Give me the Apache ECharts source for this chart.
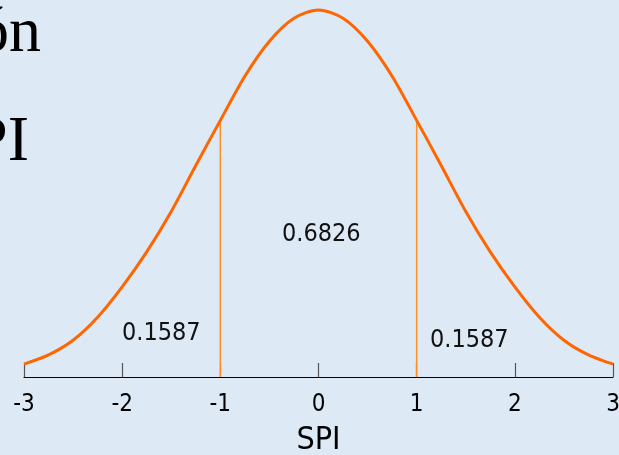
<!DOCTYPE html>
<html>
<head>
<meta charset="utf-8">
<script src="https://cdn.jsdelivr.net/npm/echarts@6/dist/echarts.min.js"></script>
<style>
html,body{margin:0;padding:0;background:#dde9f5;}
#c{width:619px;height:455px;}
</style>
</head>
<body>
<div id="c"></div>
<script>
// Curve points (x in SPI units, y relative density)
const curveX = [-3, -2.75, -2.5, -2.25, -2, -1.75, -1.5, -1.25, -1, -0.75, -0.5, -0.25, 0,
                0.25, 0.5, 0.75, 1, 1.25, 1.5, 1.75, 2, 2.25, 2.5, 2.75, 3];
const curveY = [0.014, 0.024, 0.040, 0.065, 0.098, 0.136, 0.180, 0.230, 0.279, 0.327, 0.365, 0.390, 0.399,
                0.390, 0.365, 0.327, 0.279, 0.230, 0.180, 0.136, 0.098, 0.065, 0.040, 0.024, 0.014];
const boundX = [-1, 1];
const boundY = [0.279, 0.279];
const tickLabels = ['-3', '-2', '-1', '0', '1', '2', '3'];
const areaLabels = ['0.1587', '0.6826', '0.1587'];
const axisName = 'SPI';
const titleFragments = ['ón', 'PI'];

const FONT = '"DejaVu Sans Condensed", "DejaVu Sans", sans-serif';
const chart = echarts.init(document.getElementById('c'));
const curveData = curveX.map((x, i) => [x, curveY[i]]);
const boundSeries = boundX.map((x, i) => ({
  type: 'line',
  data: [[x, 0], [x, boundY[i]]],
  symbol: 'none',
  lineStyle: { color: '#ff9124', width: 1.5 },
  silent: true,
  z: 1
}));

chart.setOption({
  backgroundColor: '#dde9f5',
  animation: false,
  grid: { left: 24, right: 6, top: 10, bottom: 78, containLabel: false, outerBoundsMode: 'none' },
  xAxis: {
    type: 'value', min: -3, max: 3, interval: 1,
    axisLine: { show: true, lineStyle: { color: '#000', width: 1.2 } },
    axisTick: { show: true, inside: true, length: 14, lineStyle: { color: '#555', width: 1.2 } },
    axisLabel: {
      formatter: v => tickLabels[Math.round(v) + 3],
      color: '#000', fontSize: 24, fontFamily: FONT, margin: 16
    },
    splitLine: { show: false },
    name: axisName, nameLocation: 'middle', nameGap: 48,
    nameTextStyle: { color: '#000', fontSize: 32, fontFamily: FONT }
  },
  yAxis: {
    type: 'value', min: 0, max: 0.399, show: false,
    splitLine: { show: false }
  },
  series: [
    ...boundSeries,
    {
      type: 'line', data: curveData, smooth: 0.3, symbol: 'none', clip: false,
      lineStyle: { color: '#ff6600', width: 3 }, z: 3
    }
  ],
  graphic: [
    { type: 'text', x: 122, y: 333.5, style: { text: areaLabels[0], fill: '#111', font: '25px ' + FONT, align: 'left', verticalAlign: 'middle' } },
    { type: 'text', x: 282, y: 234.5, style: { text: areaLabels[1], fill: '#111', font: '25px ' + FONT, align: 'left', verticalAlign: 'middle' } },
    { type: 'text', x: 430, y: 340, style: { text: areaLabels[2], fill: '#111', font: '25px ' + FONT, align: 'left', verticalAlign: 'middle' } },
    { type: 'text', x: 41, y: 2, style: { text: titleFragments[0], fill: '#000', font: '64px "Liberation Serif"', align: 'right', verticalAlign: 'top' } },
    { type: 'text', x: 29, y: 111, style: { text: titleFragments[1], fill: '#000', font: '64px "Liberation Serif"', align: 'right', verticalAlign: 'top' } }
  ]
});
</script>
</body>
</html>
